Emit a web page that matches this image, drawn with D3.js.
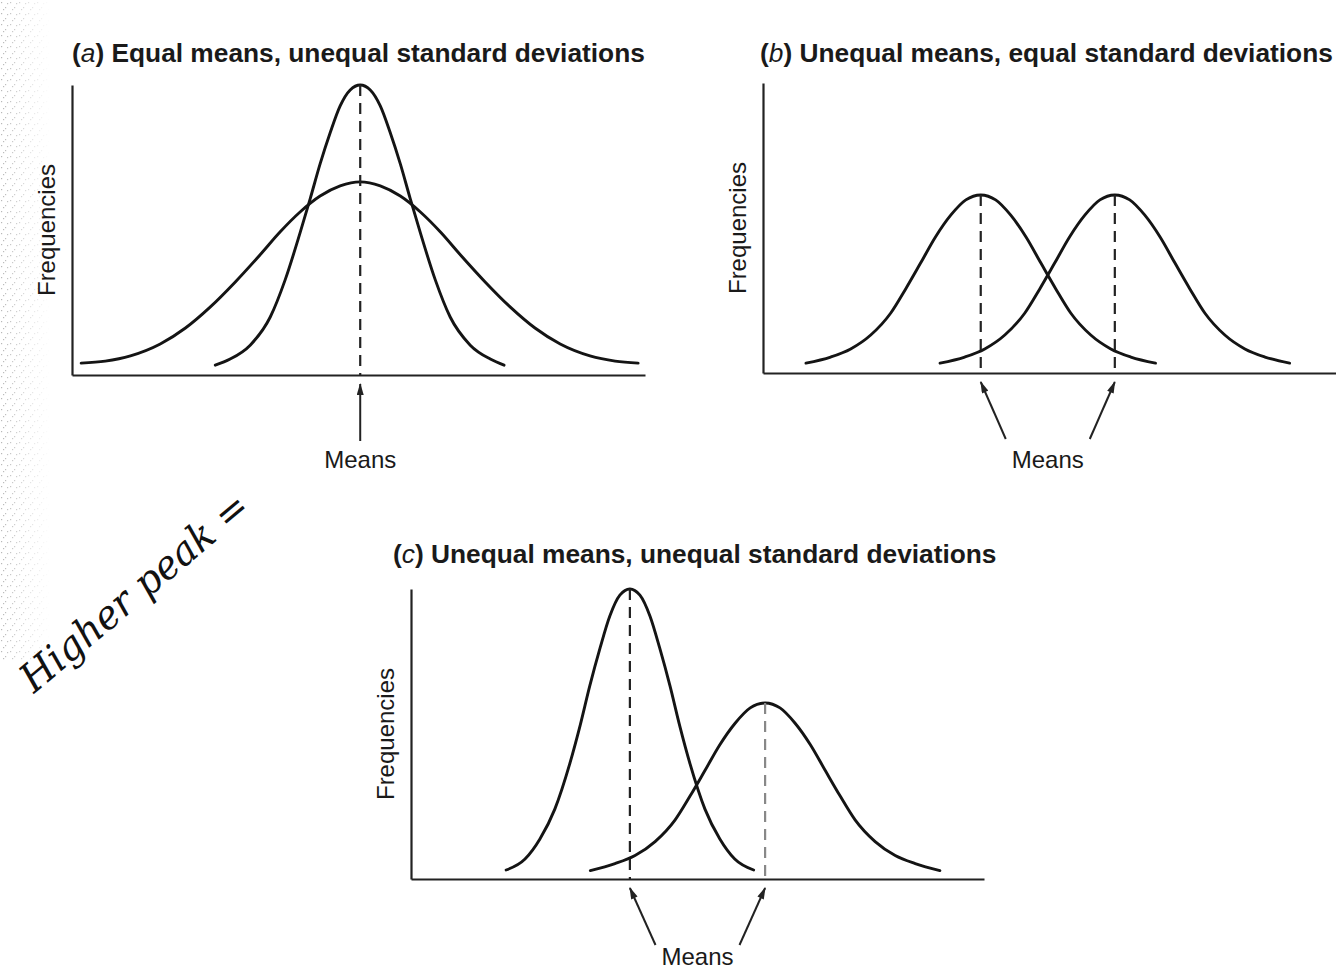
<!DOCTYPE html>
<html>
<head>
<meta charset="utf-8">
<script src="https://cdn.jsdelivr.net/npm/d3@7"></script>
<style>
  html, body { margin: 0; padding: 0; background: #fff; }
  svg { display: block; }
</style>
</head>
<body>
<svg id="chart" width="1336" height="973"></svg>
<script>
// ---------- DATA (x = score, y = frequency, both 0-100) ----------
const panelIds    = ["a", "b", "c"];
const panelTitles = ["Equal means, unequal standard deviations",
                     "Unequal means, equal standard deviations",
                     "Unequal means, unequal standard deviations"];
const axisLabelY  = "Frequencies";
const meansLabel  = "Means";

// Panel (a)
const aNarrowX = [25.0, 27.6, 31.1, 34.6, 37.2, 39.8, 41.6, 43.3, 45.1, 46.8, 48.55, 50.3, 52.05, 53.8, 55.5, 57.3, 59.0, 60.8, 63.4, 66.0, 69.5, 73.0, 75.4];
const aNarrowY = [3.4, 5.5, 10.3, 20.0, 32.8, 49.0, 61.0, 72.8, 83.8, 92.8, 98.3, 100, 98.3, 92.8, 83.8, 72.8, 61.0, 49.0, 32.8, 20.0, 10.3, 5.5, 3.4];
const aWideX   = [1.6, 5.8, 10.2, 15.4, 19.8, 24.1, 28.5, 32.8, 36.3, 39.8, 43.3, 46.8, 50.3, 53.8, 57.3, 60.8, 64.3, 67.8, 72.1, 76.5, 80.8, 85.2, 90.4, 94.8, 98.8];
const aWideY   = [4.1, 4.8, 6.6, 10.7, 16.2, 23.4, 32.1, 41.4, 49.3, 56.2, 61.7, 65.2, 66.6, 65.2, 61.7, 56.2, 49.3, 41.4, 32.1, 23.4, 16.2, 10.7, 6.6, 4.8, 4.1];

// Panel (b)
const bLeftX  = [7.5, 11.8, 15.3, 18.8, 22.3, 24.9, 27.5, 30.1, 32.8, 35.4, 38.0, 40.6, 43.2, 45.9, 48.5, 51.1, 53.7, 57.2, 60.7, 64.2, 68.5];
const bLeftY  = [3.4, 5.5, 8.3, 13.1, 20.7, 29.0, 37.9, 46.9, 54.5, 59.7, 61.4, 59.7, 54.5, 46.9, 37.9, 29.0, 20.7, 13.1, 8.3, 5.5, 3.4];
const bRightX = [30.9, 35.2, 38.7, 42.2, 45.7, 48.3, 50.9, 53.5, 56.2, 58.8, 61.4, 64.0, 66.6, 69.3, 71.9, 74.5, 77.1, 80.6, 84.1, 87.6, 91.9];
const bRightY = [3.4, 5.5, 8.3, 13.1, 20.7, 29.0, 37.9, 46.9, 54.5, 59.7, 61.4, 59.7, 54.5, 46.9, 37.9, 29.0, 20.7, 13.1, 8.3, 5.5, 3.4];

// Panel (c)
const cTallX = [16.6, 19.9, 22.5, 25.1, 27.7, 29.5, 31.2, 33.0, 34.7, 36.45, 38.2, 39.95, 41.7, 43.4, 45.2, 46.9, 48.7, 51.3, 53.9, 56.5, 59.8];
const cTallY = [3.1, 6.9, 13.8, 24.1, 39.7, 52.8, 66.6, 79.7, 90.7, 97.9, 100, 97.9, 90.7, 79.7, 66.6, 52.8, 39.7, 24.1, 13.8, 6.9, 3.1];
const cWideX = [31.3, 35.6, 39.1, 42.6, 46.1, 48.7, 51.3, 53.9, 56.6, 59.2, 61.8, 64.4, 67.0, 69.7, 72.3, 74.9, 77.5, 81.0, 84.5, 88.0, 92.3];
const cWideY = [2.9, 5.3, 8.1, 12.9, 20.4, 28.6, 37.4, 46.3, 53.8, 59.0, 60.7, 59.0, 53.8, 46.3, 37.4, 28.6, 20.4, 12.9, 8.1, 5.3, 2.9];

const annotation = "Higher peak =";

// ---------- LAYOUT ----------
const svg = d3.select("#chart");
const W = 573, H = 290;
const panels = [
  { id: "a", left: 72,  bottom: 375, titleX: 72,  titleY: 62, meansDy: 93,
    curves: [[aNarrowX, aNarrowY], [aWideX, aWideY]], dashCols: ["#222"] },
  { id: "b", left: 763, bottom: 373, titleX: 760, titleY: 62, meansDy: 95,
    curves: [[bLeftX, bLeftY], [bRightX, bRightY]], dashCols: ["#222", "#222"] },
  { id: "c", left: 411, bottom: 879, titleX: 393, titleY: 563, meansDy: 86,
    curves: [[cTallX, cTallY], [cWideX, cWideY]], dashCols: ["#222", "#888"] }
];

// scan speckle on the left edge
const defs = svg.append("defs");
const pat = defs.append("pattern").attr("id", "speck").attr("width", 9).attr("height", 11)
  .attr("patternUnits", "userSpaceOnUse");
[[1,2],[5,7],[3,9],[7,3]].forEach(([x,y]) =>
  pat.append("rect").attr("x", x).attr("y", y).attr("width", 1.2).attr("height", 1.2).attr("fill", "#999"));
const fm = defs.append("linearGradient").attr("id", "fadeMask").attr("x1", 0).attr("x2", 1);
fm.append("stop").attr("offset", "0").attr("stop-color", "#fff");
fm.append("stop").attr("offset", "1").attr("stop-color", "#000");
const mask = defs.append("mask").attr("id", "speckMask");
mask.append("rect").attr("x", 0).attr("y", 0).attr("width", 50).attr("height", 660).attr("fill", "url(#fadeMask)");
svg.append("rect").attr("x", 0).attr("y", 0).attr("width", 50).attr("height", 660)
  .attr("fill", "url(#speck)").attr("mask", "url(#speckMask)").attr("opacity", 0.7);

// arrowhead marker
defs.append("marker").attr("id", "arrow").attr("viewBox", "0 0 12 7")
  .attr("refX", 11).attr("refY", 3.5).attr("markerWidth", 13).attr("markerHeight", 7)
  .attr("markerUnits", "userSpaceOnUse").attr("orient", "auto")
  .append("path").attr("d", "M0,0 L12,3.5 L0,7 Z").attr("fill", "#222");

const font = "'Liberation Sans', Arial, Helvetica, sans-serif";

panels.forEach((p, i) => {
  const x = d3.scaleLinear().domain([0, 100]).range([p.left, p.left + W]);
  const y = d3.scaleLinear().domain([0, 100]).range([p.bottom, p.bottom - H]);
  const g = svg.append("g");

  // title
  const t = g.append("text").attr("x", p.titleX).attr("y", p.titleY)
    .attr("font-family", font).attr("font-size", 26.3).attr("font-weight", "bold").attr("fill", "#1a1a1a");
  t.append("tspan").text("(");
  t.append("tspan").attr("font-style", "italic").attr("font-weight", "normal").text(panelIds[i]);
  t.append("tspan").text(") " + panelTitles[i]);

  // axes (no ticks)
  const xAxis = d3.axisBottom(x).tickValues([]).tickSizeOuter(0);
  const yAxis = d3.axisLeft(y).tickValues([]).tickSizeOuter(0);
  g.append("g").attr("transform", `translate(0,${p.bottom})`).call(xAxis)
    .select(".domain").attr("stroke", "#222").attr("stroke-width", 2.2);
  g.append("g").attr("transform", `translate(${p.left},0)`).call(yAxis)
    .select(".domain").attr("stroke", "#222").attr("stroke-width", 2.2);

  // y label
  g.append("text").attr("transform", `translate(${p.left - 17},${p.bottom - H / 2}) rotate(-90)`)
    .attr("text-anchor", "middle").attr("font-family", font).attr("font-size", 24)
    .attr("fill", "#1a1a1a").text(axisLabelY);

  // curves
  const line = d3.line().x(d => x(d[0])).y(d => y(d[1])).curve(d3.curveMonotoneX);
  const meansPx = [];
  p.curves.forEach(([xs, ys], k) => {
    const pts = xs.map((v, j) => [v, ys[j]]);
    g.append("path").attr("d", line(pts)).attr("fill", "none")
      .attr("stroke", "#141414").attr("stroke-width", 2.9).attr("stroke-linecap", "round");
    const peak = pts[d3.maxIndex(pts, d => d[1])];
    meansPx.push({ x: peak[0], y: peak[1], k });
  });

  // dashed mean lines (panel a: one shared mean drawn from the highest peak)
  const meanLines = p.id === "a" ? [meansPx[0]] : meansPx;
  meanLines.forEach((m, k) => {
    g.append("line").attr("x1", x(m.x)).attr("x2", x(m.x))
      .attr("y1", y(m.y)).attr("y2", p.bottom)
      .attr("stroke", p.dashCols[k] || "#222").attr("stroke-width", 2.2)
      .attr("stroke-dasharray", "11,7");
  });

  // "Means" label and arrows
  const labelX = d3.mean(meanLines, m => x(m.x));
  g.append("text").attr("x", labelX).attr("y", p.bottom + p.meansDy).attr("text-anchor", "middle")
    .attr("font-family", font).attr("font-size", 24).attr("fill", "#1a1a1a").text(meansLabel);
  meanLines.forEach((m, k) => {
    const tipX = x(m.x);
    let tailX = tipX;
    if (meanLines.length > 1) tailX = labelX + (k === 0 ? -42 : 42);
    g.append("line").attr("x1", tailX).attr("y1", p.bottom + 66)
      .attr("x2", tipX).attr("y2", p.bottom + 9)
      .attr("stroke", "#222").attr("stroke-width", 2).attr("marker-end", "url(#arrow)");
  });
});

// handwritten note
svg.append("text").attr("transform", "translate(34,694) rotate(-40)")
  .attr("font-family", "'DejaVu Serif', serif").attr("font-style", "italic")
  .attr("font-size", 40).attr("fill", "#111").attr("textLength", 285)
  .attr("lengthAdjust", "spacingAndGlyphs").text(annotation);
</script>
</body>
</html>
